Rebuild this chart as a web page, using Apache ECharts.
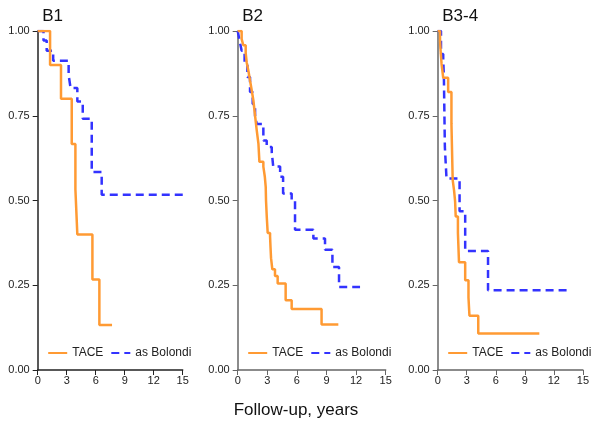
<!DOCTYPE html>
<html><head><meta charset="utf-8">
<script src="https://cdn.jsdelivr.net/npm/echarts@6/dist/echarts.min.js"></script>
<style>html,body{margin:0;padding:0;background:#fff}#c{width:592px;height:426px}</style>
</head><body><div id="c"></div>
<script>
var panelTitles = ['B1', 'B2', 'B3-4'];
var seriesNames = ['TACE', 'as Bolondi'];
var xTicks = [0, 3, 6, 9, 12, 15];
var yTicks = [0, 0.25, 0.5, 0.75, 1];
var xLabel = 'Follow-up, years';

var b1Tace = [[0,1],[1.28,0.9],[2.41,0.8],[3.52,0.667],[3.9,0.533],[4.1,0.4],[5.66,0.267],[6.38,0.133],[7.69,0.133]];
var b1Bolondi = [[0,1],[0.6,0.972],[0.93,0.942],[1.6,0.912],[3.2,0.87],[3.4,0.832],[4.1,0.792],[4.66,0.741],[5.59,0.584],[6.62,0.517],[15.3,0.517]];

var b2Tace = [[0,1],[0.4,0.976],[0.57,0.958],[0.81,0.935],[0.91,0.908],[1.1,0.88],[1.25,0.854],[1.42,0.825],[1.59,0.795],[1.76,0.75],[1.93,0.707],[2.1,0.668],[2.2,0.614],[2.6,0.6],[2.75,0.57],[2.84,0.54],[2.87,0.5],[2.95,0.45],[3.04,0.404],[3.28,0.394],[3.33,0.36],[3.38,0.33],[3.51,0.297],[3.78,0.277],[4.05,0.255],[4.86,0.206],[5.47,0.18],[8.5,0.134],[10.2,0.134]];
var b2Bolondi = [[0,1],[0.2,0.97],[0.4,0.942],[0.7,0.9],[0.98,0.864],[1.25,0.82],[1.52,0.785],[1.76,0.75],[1.93,0.726],[2.6,0.677],[2.94,0.658],[3.45,0.643],[3.6,0.6],[4.3,0.57],[4.6,0.521],[5.47,0.5],[5.81,0.414],[7.67,0.388],[8.85,0.355],[9.6,0.304],[10.27,0.245],[12.4,0.245]];

var b3Tace = [[0,1],[0.24,0.97],[0.3,0.942],[0.4,0.903],[0.57,0.862],[1.08,0.82],[1.42,0.726],[1.55,0.56],[1.69,0.53],[1.8,0.497],[1.86,0.453],[2.09,0.404],[2.2,0.318],[2.84,0.265],[3.18,0.214],[3.28,0.16],[4.19,0.108],[10.5,0.108]];
var b3Bolondi = [[0,1],[0.34,0.932],[0.57,0.918],[0.64,0.864],[0.74,0.658],[0.91,0.565],[2.26,0.468],[2.84,0.351],[5.2,0.235],[13.6,0.235]];

var panelData = [[b1Tace, b1Bolondi], [b2Tace, b2Bolondi], [b3Tace, b3Bolondi]];

var gridLeft = [37.7, 237.7, 437.7];
var gridWidth = [145, 148, 148];
var axisColors = ['#222', '#666', '#666'];
var orange = '#FF9A33';
var blue = '#3333FF';
var font = 'Liberation Sans, Arial, sans-serif';

var grids = [], xAxes = [], yAxes = [], series = [], titles = [], legends = [];
for (var i = 0; i < 3; i++) {
  grids.push({left: gridLeft[i], width: gridWidth[i], top: 31, bottom: 56, containLabel: false});
  xAxes.push({
    type: 'value', gridIndex: i, min: 0, max: 15, interval: 3,
    axisLine: {show: true, lineStyle: {color: axisColors[i], width: 1.5}},
    axisTick: {show: true, length: 5, lineStyle: {color: axisColors[i]}},
    axisLabel: {color: '#222', fontSize: 11, margin: 5, fontFamily: font},
    splitLine: {show: false}
  });
  yAxes.push({
    type: 'value', gridIndex: i, min: 0, max: 1, interval: 0.25,
    axisLine: {show: true, lineStyle: {color: axisColors[i], width: 1.5}},
    axisTick: {show: true, length: 5, lineStyle: {color: axisColors[i]}},
    axisLabel: {color: '#222', fontSize: 11, margin: 8, fontFamily: font,
      formatter: function (v) { return v.toFixed(2); }},
    splitLine: {show: false}
  });
  series.push({
    name: seriesNames[0], type: 'line', xAxisIndex: i, yAxisIndex: i, step: 'end',
    data: panelData[i][0], showSymbol: false, symbol: 'circle', z: 3,
    lineStyle: {color: orange, width: 2.5}, itemStyle: {color: orange}
  });
  series.push({
    name: seriesNames[1], type: 'line', xAxisIndex: i, yAxisIndex: i, step: 'end',
    data: panelData[i][1], showSymbol: false, symbol: 'circle', z: 2,
    lineStyle: {color: blue, width: 2.5, type: [8, 5]}, itemStyle: {color: blue}
  });
  titles.push({
    text: panelTitles[i], left: gridLeft[i] + 4.5, top: 8, padding: 0,
    textStyle: {fontSize: 17, fontWeight: 'normal', color: '#111', fontFamily: font}
  });
  legends.push({
    data: seriesNames,
    left: gridLeft[i] + 9.5, top: 347, padding: 0,
    itemWidth: 19, itemHeight: 14, itemGap: 7, selectedMode: false,
    itemStyle: {opacity: 0, borderWidth: 0},
    textStyle: {fontSize: 12, color: '#222', fontFamily: font}
  });
}
titles.push({
  text: xLabel, left: 'center', top: 402, padding: 0,
  textStyle: {fontSize: 17, fontWeight: 'normal', color: '#111', fontFamily: font}
});

var chart = echarts.init(document.getElementById('c'), null, {renderer: 'canvas'});
chart.setOption({
  animation: false,
  backgroundColor: '#fff',
  title: titles,
  legend: legends,
  grid: grids,
  xAxis: xAxes,
  yAxis: yAxes,
  series: series
});
</script></body></html>
